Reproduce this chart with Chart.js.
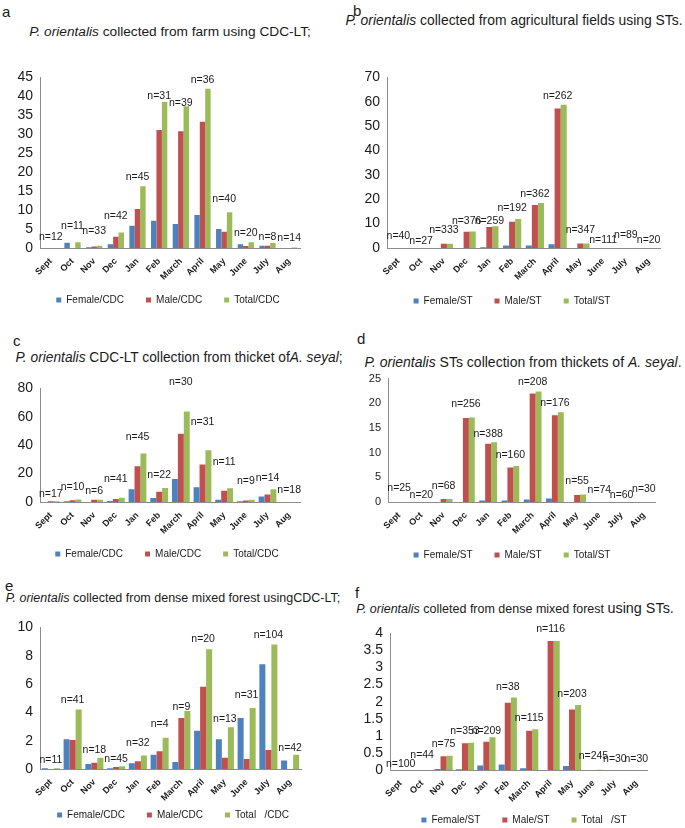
<!DOCTYPE html>
<html lang="en">
<head>
<meta charset="UTF-8">
<title>P. orientalis monthly collections</title>
<script src="https://cdn.jsdelivr.net/npm/chart.js"></script>
<style>
  body { margin: 0; width: 685px; height: 828px; overflow: hidden; background: #fff;
         font-family: "Liberation Sans", Arial, sans-serif; color: #1a1a1a; }
  canvas { position: absolute; }
  .letter { position: absolute; font-size: 15px; line-height: 1; transform: translateY(-50%); }
  .ttl { position: absolute; white-space: nowrap; line-height: 1; transform: translate(-50%, -50%); }
</style>
</head>
<body>

<div class="letter" style="left:2px;top:11px">a</div>
<div class="ttl" style="left:170px;top:32px;font-size:13.7px"><i>P. orientalis</i> collected from farm using CDC-LT;</div>
<div class="letter" style="left:353px;top:10px">b</div>
<div class="ttl" style="left:514px;top:21px;font-size:13.9px"><i>P. orientalis</i> collected from agricultural fields using STs.</div>
<div class="letter" style="left:13px;top:340px">c</div>
<div class="ttl" style="left:179px;top:358px;font-size:13.75px"><i>P. orientalis</i> CDC-LT collection from thicket of<i>A. seyal</i>;</div>
<div class="letter" style="left:357px;top:338px">d</div>
<div class="ttl" style="left:523px;top:362px;font-size:14px"><i>P. orientalis</i> STs collection from thickets of <i>A. seyal</i>.</div>
<div class="letter" style="left:5px;top:585px">e</div>
<div class="ttl" style="left:173px;top:598px;font-size:12.5px"><i>P. orientalis</i> collected from dense mixed forest usingCDC-LT;</div>
<div class="letter" style="left:355px;top:592px">f</div>
<div class="ttl" style="left:515px;top:608px;font-size:12.5px"><i>P. orientalis</i> colleted from dense mixed forest <span style="font-size:14.4px">using STs.</span></div>

<script>
const months = ['Sept', 'Oct', 'Nov', 'Dec', 'Jan', 'Feb', 'March', 'April', 'May', 'June', 'July', 'Aug'];
const cdcNames = ['Female/CDC', 'Male/CDC', 'Total/CDC'];
const stNames = ['Female/ST', 'Male/ST', 'Total/ST'];
const eNames = ['Female/CDC', 'Male/CDC', 'Total   /CDC'];
const fNames = ['Female/ST', 'Male/ST', 'Total   /ST'];

// a - farm, CDC-LT
const aFemale = [0, 1.4, 0.2, 1.0, 5.9, 7.2, 6.3, 8.7, 5.0, 1.0, 0.6, 0];
const aMale = [0, 0, 0.4, 3.0, 10.3, 31.1, 30.8, 33.3, 4.3, 0.5, 0.6, 0];
const aTotal = [0, 1.5, 0.6, 4.1, 16.3, 38.5, 37.4, 42.0, 9.4, 1.5, 1.3, 0.1];
const aN = ['n=12', 'n=11', 'n=33', 'n=42', 'n=45', 'n=31', 'n=39', 'n=36', 'n=40', 'n=20', 'n=8', 'n=14'];
const aNy = [2.8, 5.7, 4.4, 8.5, 18.7, 40, 38.2, 44.4, 12.9, 3.8, 2.8, 2.6];

// b - agricultural fields, STs
const bFemale = [0, 0, 0, 0, 0.3, 1.0, 1.0, 1.5, 0, 0, 0, 0];
const bMale = [0, 0, 1.7, 6.7, 8.6, 10.8, 17.6, 57.2, 1.8, 0, 0, 0];
const bTotal = [0, 0, 1.7, 6.8, 8.9, 11.9, 18.5, 58.8, 1.8, 0, 0, 0];
const bN = ['n=40', 'n=27', 'n=333', 'n=376', 'n=259', 'n=192', 'n=362', 'n=262', 'n=347', 'n=111', 'n=89', 'n=20'];
const bNy = [5.0, 3.0, 7.3, 11.2, 11.2, 16.5, 22, 62.4, 7.5, 3.3, 5.2, 3.3];

// c - thicket of A. seyal, CDC-LT
const cFemale = [0, 0.5, 0, 0.7, 9.0, 2.9, 16.2, 10.4, 1.5, 0.5, 3.8, 0];
const cMale = [0.6, 1.2, 1.6, 2.2, 25.2, 7.2, 48.0, 26.4, 7.9, 1.0, 5.2, 0];
const cTotal = [0.6, 1.8, 1.6, 3.0, 34.2, 9.9, 63.7, 36.5, 9.7, 1.6, 9.0, 0];
const cN = ['n=17', 'n=10', 'n=6', 'n=41', 'n=45', 'n=22', 'n=30', 'n=31', 'n=11', 'n=9', 'n=14', 'n=18'];
const cNy = [5.6, 10.8, 7.9, 15.8, 45.5, 19.1, 84.5, 56.3, 28.2, 14.6, 16.9, 8.6];

// d - thickets of A. seyal, STs
const dFemale = [0, 0, 0, 0, 0.3, 0.3, 0.5, 0.7, 0, 0, 0, 0];
const dMale = [0, 0, 0.6, 17.0, 11.8, 7.0, 22.0, 17.6, 1.4, 0, 0, 0];
const dTotal = [0, 0, 0.6, 17.1, 12.1, 7.3, 22.4, 18.2, 1.5, 0, 0, 0];
const dN = ['n=25', 'n=20', 'n=68', 'n=256', 'n=388', 'n=160', 'n=208', 'n=176', 'n=55', 'n=74', 'n=60', 'n=30'];
const dNy = [2.8, 1.4, 3.2, 19.9, 13.7, 9.4, 24.3, 20.1, 4.3, 2.4, 1.3, 2.6];

// e - dense mixed forest, CDC-LT
const eFemale = [0.05, 2.1, 0.35, 0.05, 0.4, 1.0, 0.5, 2.7, 2.1, 3.6, 7.4, 0.6];
const eMale = [0, 2.05, 0.45, 0.15, 0.55, 1.25, 3.6, 5.8, 0.8, 0.7, 1.35, 0];
const eTotal = [0.05, 4.2, 0.8, 0.2, 0.95, 2.2, 4.1, 8.45, 2.95, 4.3, 8.8, 1.0];
const eN = ['n=11', 'n=41', 'n=18', 'n=45', 'n=32', 'n=4', 'n=9', 'n=20', 'n=13', 'n=31', 'n=104', 'n=42'];
const eNy = [0.66, 4.9, 1.3, 0.68, 1.8, 3.2, 4.4, 9.2, 3.55, 5.25, 9.43, 1.47];

// f - dense mixed forest, STs
const fFemale = [0, 0, 0.03, 0.02, 0.13, 0.16, 0.05, 0, 0.12, 0, 0, 0];
const fMale = [0, 0, 0.4, 0.78, 0.83, 1.97, 1.15, 3.78, 1.77, 0, 0, 0];
const fTotal = [0, 0, 0.42, 0.8, 0.96, 2.12, 1.19, 3.78, 1.9, 0.01, 0, 0];
const fN = ['n=100', 'n=44', 'n=75', 'n=353', 'n=209', 'n=38', 'n=115', 'n=116', 'n=203', 'n=245', 'n=30', 'n=30'];
const fNy = [0.17, 0.45, 0.77, 1.13, 1.13, 2.43, 1.53, 4.14, 2.21, 0.4, 0.33, 0.33];

Chart.defaults.font.family = '"Liberation Sans", Arial, sans-serif';
Chart.defaults.color = '#1a1a1a';

// page geometry of each panel (plot box, legend centre)
const panels = [
  { L: 0,   R: 342, plotL: 40,  plotR: 300, plotT: 72,  plotB: 248, legX: 168, legY: 300, max: 45, step: 5,   tick: 14, cat: 0.75,
    series: [aFemale, aMale, aTotal], names: cdcNames, n: aN, ny: aNy },
  { L: 342, R: 685, plotL: 387, plotR: 660, plotT: 72,  plotB: 248, legX: 512, legY: 301, max: 70, step: 10,  tick: 14, cat: 0.8,
    series: [bFemale, bMale, bTotal], names: stNames, n: bN, ny: bNy },
  { L: 0,   R: 342, plotL: 40,  plotR: 300, plotT: 383, plotB: 502, legX: 167, legY: 554, max: 80, step: 20,  tick: 14, cat: 0.82,
    series: [cFemale, cMale, cTotal], names: cdcNames, n: cN, ny: cNy },
  { L: 342, R: 685, plotL: 388, plotR: 655, plotT: 375, plotB: 502, legX: 512, legY: 555, max: 25, step: 5,   tick: 11, cat: 0.8,
    series: [dFemale, dMale, dTotal], names: stNames, n: dN, ny: dNy },
  { L: 0,   R: 342, plotL: 40,  plotR: 301, plotT: 622, plotB: 769, legX: 173, legY: 815, max: 10, step: 2,   tick: 14, cat: 0.83,
    series: [eFemale, eMale, eTotal], names: eNames, n: eN, ny: eNy },
  { L: 342, R: 685, plotL: 390, plotR: 647, plotT: 628, plotB: 770, legX: 524, legY: 820, max: 4,  step: 0.5, tick: 14, cat: 0.85,
    series: [fFemale, fMale, fTotal], names: fNames, n: fN, ny: fNy }
];

const colors = ['#4F81BD', '#C0504D', '#9BBB59'];

const nLabels = {
  id: 'nLabels',
  afterDatasetsDraw(chart, args, opts) {
    const { ctx, scales: { x, y } } = chart;
    ctx.save();
    ctx.font = '10.5px "Liberation Sans", Arial, sans-serif';
    ctx.fillStyle = '#1a1a1a';
    ctx.textAlign = 'center';
    ctx.textBaseline = 'middle';
    opts.text.forEach((t, i) => ctx.fillText(t, x.getPixelForValue(i), y.getPixelForValue(opts.at[i])));
    ctx.restore();
  }
};

// put the legend row where it sits in the figure (canvas px)
const legendAt = {
  id: 'legendAt',
  afterLayout(chart, args, opts) {
    const lg = chart.legend;
    const halfW = (lg.right - lg.left) / 2;
    const h = lg.bottom - lg.top;
    lg.left = opts.x - halfW;
    lg.right = opts.x + halfW;
    lg.top = opts.top;
    lg.bottom = opts.top + h;
  }
};

function makeChart(p) {
  const padTop = 10, legPad = 22, yW = 28, xH = 45;
  const legH = 20 + legPad;
  const top = p.plotT - padTop;
  const W = p.R - p.L;
  const H = padTop + (p.plotB - p.plotT) + xH + legH;
  const padR = p.R - p.plotR;
  const padL = p.plotL - yW - p.L;

  const cv = document.createElement('canvas');
  cv.width = W; cv.height = H;
  cv.style.left = p.L + 'px';
  cv.style.top = top + 'px';
  cv.style.width = W + 'px';
  cv.style.height = H + 'px';
  document.body.appendChild(cv);

  new Chart(cv, {
    type: 'bar',
    data: {
      labels: months,
      datasets: p.series.map((s, i) => ({ label: p.names[i], data: s, backgroundColor: colors[i] }))
    },
    options: {
      responsive: false,
      animation: false,
      layout: { padding: { top: padTop, right: padR, left: padL, bottom: 0 } },
      datasets: { bar: { categoryPercentage: p.cat, barPercentage: 1 } },
      plugins: {
        legend: {
          position: 'bottom',
          labels: { boxWidth: 5, boxHeight: 5, padding: legPad, font: { size: 10 }, color: '#1a1a1a' }
        },
        tooltip: { enabled: false },
        nLabels: { text: p.n, at: p.ny },
        legendAt: { x: p.legX - p.L, top: p.legY - top - legPad - 5 }
      },
      scales: {
        x: {
          grid: { display: false, drawTicks: false },
          border: { color: '#8c8c8c' },
          ticks: { minRotation: 45, maxRotation: 45, autoSkip: false, padding: 8, font: { size: 9, weight: 'bold' } },
          afterFit(s) { s.height = xH; }
        },
        y: {
          min: 0, max: p.max,
          grid: { display: false, drawTicks: false },
          border: { color: '#8c8c8c' },
          ticks: { stepSize: p.step, autoSkip: false, padding: 7, font: { size: p.tick }, callback: v => String(v) },
          afterFit(s) { s.width = yW; }
        }
      }
    },
    plugins: [nLabels, legendAt]
  });
}

panels.forEach(makeChart);
</script>
</body>
</html>
